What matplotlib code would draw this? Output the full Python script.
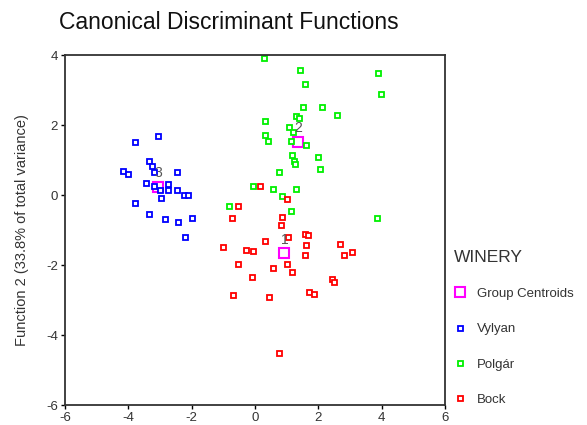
import matplotlib
matplotlib.use("Agg")
import matplotlib.pyplot as plt
from matplotlib.lines import Line2D

plt.rcParams['font.family'] = ['Liberation Sans', 'DejaVu Sans']
plt.rcParams['axes.unicode_minus'] = False

# canonical scores
vylyan_x = [-3.06, -3.80, -3.36, -3.26, -3.20, -4.18, -4.02, -2.46, -3.44, -3.19,
            -2.74, -3.00, -2.74, -2.46, -2.23, -2.11, -2.98, -3.80, -3.36, -2.83,
            -2.42, -2.00, -2.22]
vylyan_y = [1.70, 1.51, 0.96, 0.84, 0.67, 0.70, 0.59, 0.67, 0.33, 0.26,
            0.31, 0.14, 0.14, 0.14, 0.00, 0.00, -0.09, -0.23, -0.55, -0.68,
            -0.78, -0.67, -1.19]

polgar_x = [0.27, 1.42, 3.87, 1.59, 3.98, 1.50, 2.12, 2.60, 1.29, 1.38,
            0.32, 1.08, 1.21, 0.32, 0.41, 1.14, 1.62, 1.18, 1.23, 1.27,
            2.00, 2.04, 0.77, -0.05, 0.57, 1.30, 0.84, -0.83, 1.15, 3.86]
polgar_y = [3.92, 3.58, 3.48, 3.18, 2.88, 2.51, 2.51, 2.29, 2.27, 2.19,
            2.11, 1.93, 1.79, 1.71, 1.53, 1.53, 1.44, 1.15, 0.97, 0.89,
            1.10, 0.73, 0.66, 0.26, 0.18, 0.18, -0.04, -0.31, -0.45, -0.67]

bock_x = [0.16, 1.02, -0.54, -0.74, 0.84, 0.81, 1.05, 1.57, 1.67, 1.62,
          0.32, -1.02, -0.28, -0.05, 2.69, 3.06, 2.80, 1.58, -0.54, 1.00,
          0.57, 1.18, -0.09, 2.44, 2.48, 1.70, 1.87, -0.71, 0.44, 0.77]
bock_y = [0.26, -0.11, -0.31, -0.67, -0.63, -0.86, -1.19, -1.12, -1.14, -1.42,
          -1.30, -1.49, -1.57, -1.60, -1.41, -1.63, -1.72, -1.72, -1.97, -1.97,
          -2.09, -2.20, -2.34, -2.41, -2.49, -2.78, -2.83, -2.86, -2.92, -4.52]

centroid_x = [0.93, 1.37, -3.06]
centroid_y = [-1.67, 1.51, 0.22]
centroid_lab = ['1', '2', '3']

fig = plt.figure(figsize=(5.87, 4.25), dpi=100)
ax = fig.add_axes([0.1107, 0.047, 0.6475, 0.8235])

# centroids first so the group points sit on top, as in SPSS output
ax.plot(centroid_x, centroid_y, marker='s', linestyle='none', markersize=7.5,
        markeredgewidth=1.5, markeredgecolor='#ff00ff', markerfacecolor='none')
for cx, cy, lab in zip(centroid_x, centroid_y, centroid_lab):
    ax.annotate(lab, (cx, cy), xytext=(0, 5), textcoords='offset points',
                ha='center', va='bottom', fontsize=10, color='#555555')

pt = dict(marker='s', linestyle='none', markersize=3.6, markeredgewidth=1.3,
          markerfacecolor='white')
ax.plot(vylyan_x, vylyan_y, markeredgecolor='#0000ff', **pt)
ax.plot(polgar_x, polgar_y, markeredgecolor='#00f000', **pt)
ax.plot(bock_x, bock_y, markeredgecolor='#ff0000', **pt)

ax.set_xlim(-6, 6)
ax.set_ylim(-6, 4)
ax.set_xticks(range(-6, 7, 2))
ax.set_yticks(range(-6, 5, 2))
ax.tick_params(direction='out', length=3, width=1, labelsize=9.5,
               labelcolor='#333333', pad=2)
for s in ax.spines.values():
    s.set_linewidth(1.3)
    s.set_color('#333333')
ax.set_ylabel('Function 2 (33.8% of total variance)', fontsize=10.5,
              color='#333333', labelpad=12)

fig.text(0.389, 0.946, 'Canonical Discriminant Functions', ha='center',
         va='center', fontsize=16.5, color='#111111')

handles = [
    Line2D([], [], marker='s', linestyle='none', markersize=7, markeredgewidth=1.5,
           markeredgecolor='#ff00ff', markerfacecolor='none'),
    Line2D([], [], markeredgecolor='#0000ff', **pt),
    Line2D([], [], markeredgecolor='#00f000', **pt),
    Line2D([], [], markeredgecolor='#ff0000', **pt),
]
labels = ['Group Centroids', 'Vylyan', 'Polgár', 'Bock']
leg = fig.legend(handles, labels, title='WINERY', loc='upper left',
                 bbox_to_anchor=(0.765, 0.425), frameon=False, fontsize=9.5,
                 title_fontsize=12.5, labelspacing=1.75, handlelength=0.8,
                 handletextpad=0.9, borderaxespad=0)
leg._legend_box.align = 'left'
for t in leg.get_texts():
    t.set_color('#333333')
leg.get_title().set_color('#333333')

fig.savefig('out.png', dpi=100)
